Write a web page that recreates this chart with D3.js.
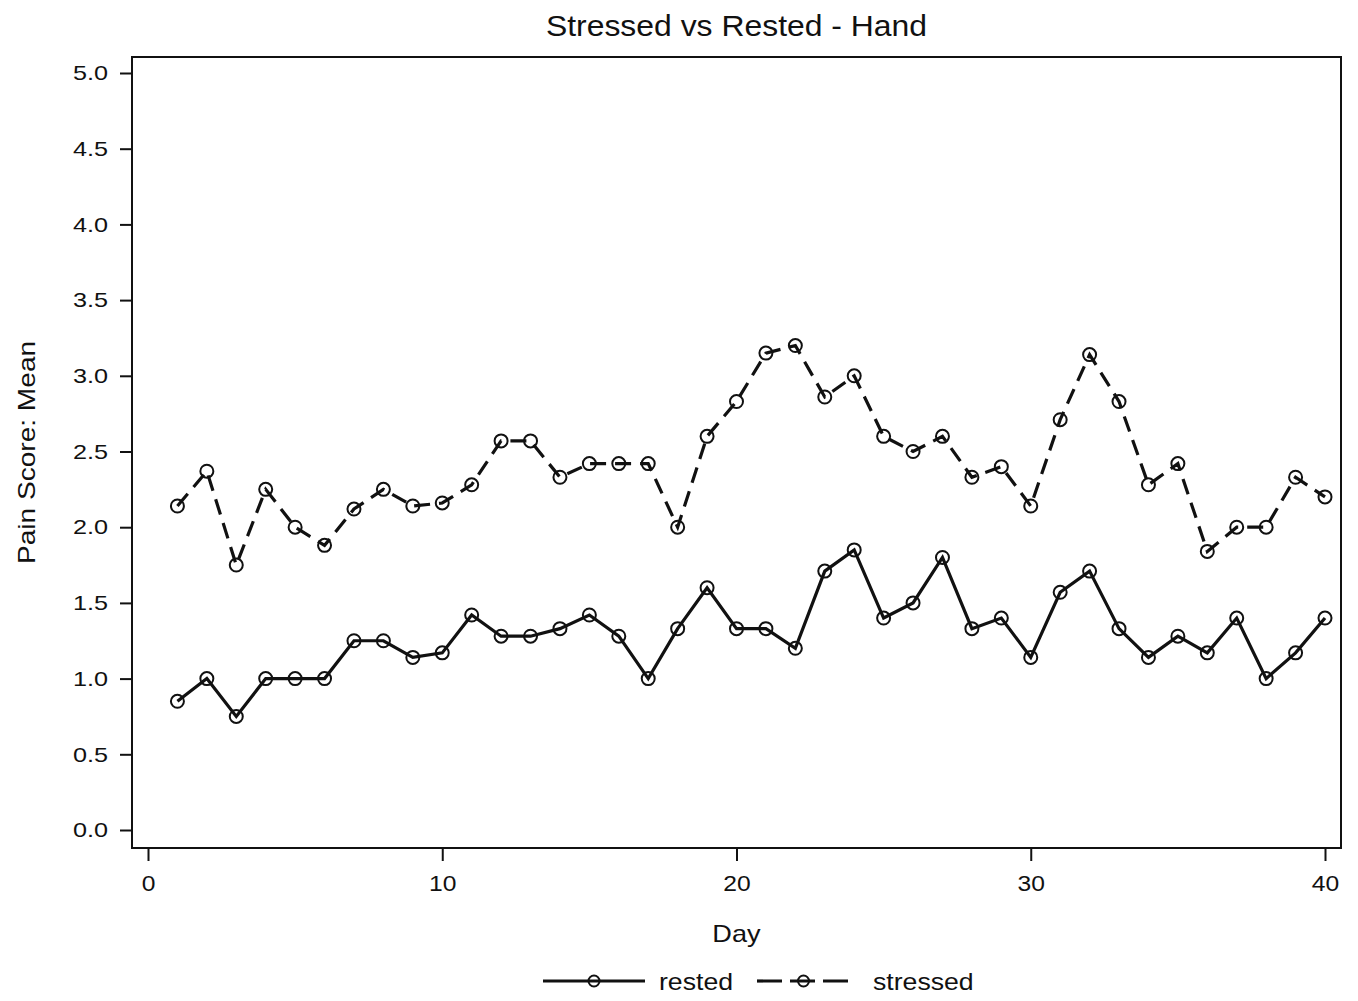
<!DOCTYPE html>
<html>
<head>
<meta charset="utf-8">
<script src="https://cdn.jsdelivr.net/npm/d3@7"></script>
<style>
  body { margin: 0; background: #fff; }
  text { font-family: "Liberation Sans", Arial, sans-serif; fill: #111; }
</style>
</head>
<body>
<div id="chart"></div>
<script>
const days = d3.range(1, 41)
const rested = [0.85, 1.0, 0.75, 1.0, 1.0, 1.0, 1.25, 1.25, 1.14, 1.17,
  1.42, 1.28, 1.28, 1.33, 1.42, 1.28, 1.0, 1.33, 1.6, 1.33,
  1.33, 1.2, 1.71, 1.85, 1.4, 1.5, 1.8, 1.33, 1.4, 1.14,
  1.57, 1.71, 1.33, 1.14, 1.28, 1.17, 1.4, 1.0, 1.17, 1.4]
const stressed = [2.14, 2.37, 1.75, 2.25, 2.0, 1.88, 2.12, 2.25, 2.14, 2.16,
  2.28, 2.57, 2.57, 2.33, 2.42, 2.42, 2.42, 2.0, 2.6, 2.83,
  3.15, 3.2, 2.86, 3.0, 2.6, 2.5, 2.6, 2.33, 2.4, 2.14,
  2.71, 3.14, 2.83, 2.28, 2.42, 1.84, 2.0, 2.0, 2.33, 2.2]
const yTicks = [0, 0.5, 1, 1.5, 2, 2.5, 3, 3.5, 4, 4.5, 5]
const xTicks = [0, 10, 20, 30, 40]
const seriesNames = ["rested", "stressed"]

const W = 1358, H = 1001
const frame = { left: 132, top: 57, right: 1341, bottom: 848 }

const svg = d3.select("#chart").append("svg")
  .attr("width", W)
  .attr("height", H)

// the source font is wider than Liberation Sans, so stretch text a bit
function widen(sel, k) {
  sel.each(function () {
    const w = this.getComputedTextLength()
    d3.select(this).attr("textLength", w * k).attr("lengthAdjust", "spacingAndGlyphs")
  })
}

const x = d3.scaleLinear().domain([0, 40]).range([148, 1325])
const y = d3.scaleLinear().domain([0, 5]).range([830, 73])

// frame
svg.append("rect")
  .attr("x", frame.left).attr("y", frame.top)
  .attr("width", frame.right - frame.left)
  .attr("height", frame.bottom - frame.top)
  .attr("fill", "none").attr("stroke", "#111").attr("stroke-width", 2)

// y axis
const yAxis = svg.append("g")
  .attr("transform", `translate(${frame.left},0)`)
  .call(d3.axisLeft(y).tickValues(yTicks).tickFormat(d3.format(".1f")).tickSize(12).tickPadding(12))
yAxis.select(".domain").remove()
yAxis.selectAll("line").attr("stroke", "#111").attr("stroke-width", 2)
yAxis.selectAll("text").style("font-size", "21px").attr("fill", "#111").call(widen, 1.2)

// x axis
const xAxis = svg.append("g")
  .attr("transform", `translate(0,${frame.bottom})`)
  .call(d3.axisBottom(x).tickValues(xTicks).tickSize(13).tickPadding(14))
xAxis.select(".domain").remove()
xAxis.selectAll("line").attr("stroke", "#111").attr("stroke-width", 2)
xAxis.selectAll("text").style("font-size", "22px").attr("fill", "#111").call(widen, 1.12)

// titles
svg.append("text")
  .attr("x", (frame.left + frame.right) / 2).attr("y", 36)
  .attr("text-anchor", "middle").style("font-size", "29px")
  .text("Stressed vs Rested - Hand")
  .call(widen, 1.1)

svg.append("text")
  .attr("x", (frame.left + frame.right) / 2).attr("y", 942)
  .attr("text-anchor", "middle").style("font-size", "24px")
  .text("Day")
  .call(widen, 1.13)

svg.append("text")
  .attr("transform", `translate(35,${(frame.top + frame.bottom) / 2}) rotate(-90)`)
  .attr("text-anchor", "middle").style("font-size", "24px")
  .text("Pain Score: Mean")
  .call(widen, 1.17)

const line = d3.line()
  .x((d, i) => x(days[i]))
  .y(d => y(d))

const dashes = ["none", "16,9"]

;[rested, stressed].forEach((vals, k) => {
  svg.append("path")
    .datum(vals)
    .attr("d", line)
    .attr("fill", "none")
    .attr("stroke", "#111")
    .attr("stroke-width", 3.2)
    .attr("stroke-dasharray", dashes[k])

  svg.append("g").selectAll("circle")
    .data(vals)
    .join("circle")
    .attr("cx", (d, i) => x(days[i]))
    .attr("cy", d => y(d))
    .attr("r", 6.5)
    .attr("fill", "none")
    .attr("stroke", "#111")
    .attr("stroke-width", 2)
})

// legend
const legend = svg.append("g").attr("class", "legend")
const legendItems = [
  { name: seriesNames[0], x0: 543, x1: 645, tx: 659, dash: "none" },
  { name: seriesNames[1], x0: 757, x1: 850, tx: 873, dash: "25,8" }
]
legendItems.forEach(d => {
  legend.append("line")
    .attr("x1", d.x0).attr("x2", d.x1)
    .attr("y1", 981).attr("y2", 981)
    .attr("stroke", "#111").attr("stroke-width", 3.2)
    .attr("stroke-dasharray", d.dash)
  legend.append("circle")
    .attr("cx", (d.x0 + d.x1) / 2).attr("cy", 981).attr("r", 5.5)
    .attr("fill", "none").attr("stroke", "#111").attr("stroke-width", 2)
  legend.append("text")
    .attr("x", d.tx).attr("y", 990)
    .style("font-size", "24px")
    .text(d.name)
    .call(widen, 1.11)
})
</script>
</body>
</html>
